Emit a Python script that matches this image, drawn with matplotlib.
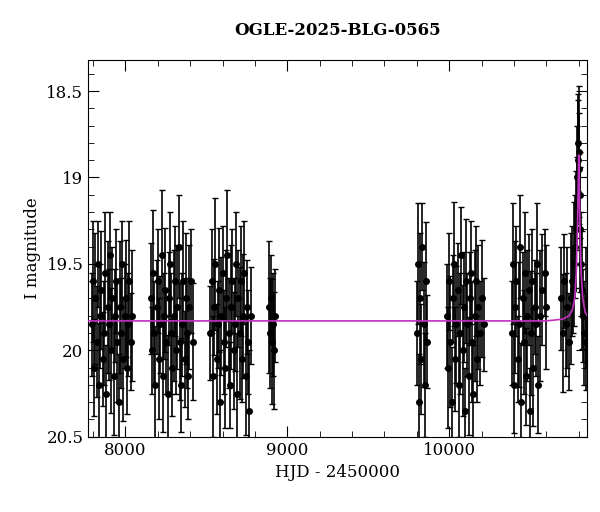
import matplotlib
matplotlib.use("Agg")
import matplotlib.pyplot as plt
from matplotlib.ticker import AutoMinorLocator

## observation seasons (HJD-2450000, I mag)
t1 = [7792,7800,7808,7815,7822,7830,7838,7845,7852,7860,7868,7875,7883,7890,7898,7905,7912,
      7920,7928,7935,7943,7950,7958,7965,7972,7980,7988,7995,8003,8010,8018,8025,8033,8040]
m1 = [19.85,19.6,20.1,19.7,19.95,19.5,20.2,19.8,19.65,20.05,19.9,19.55,20.25,19.75,19.85,19.45,20.0,
      19.7,20.15,19.8,19.6,19.95,20.3,19.75,19.9,19.5,20.05,19.8,19.7,20.1,19.85,19.6,19.95,19.8]
t2 = [8155,8163,8170,8178,8185,8193,8200,8208,8215,8223,8230,8238,8245,8253,8260,8268,8275,
      8283,8290,8298,8305,8313,8320,8328,8335,8343,8350,8358,8365,8373,8380,8388,8395,8405,8415]
m2 = [19.7,20.0,19.55,19.9,20.2,19.75,19.6,20.05,19.85,19.45,20.15,19.8,19.65,19.95,20.25,19.7,19.5,
      19.9,20.1,19.8,19.6,20.0,19.75,19.4,19.95,20.2,19.85,19.6,20.05,19.7,19.9,20.15,19.75,19.6,19.95]
t3 = [8525,8533,8540,8548,8555,8563,8570,8578,8585,8593,8600,8608,8615,8623,8630,8638,8645,
      8653,8660,8668,8675,8683,8690,8698,8705,8713,8720,8728,8735,8743,8750,8758,8765,8775]
m3 = [19.9,19.6,20.15,19.75,19.5,20.05,19.85,19.65,20.3,19.8,19.55,19.95,20.1,19.7,19.45,19.9,20.2,
      19.75,19.6,20.0,19.85,19.5,20.25,19.7,19.9,19.6,20.05,19.8,19.55,20.15,19.75,19.95,20.35,19.8]
t4 = [8885,8892,8898,8905,8912,8918,8925]
m4 = [19.75,19.9,19.7,19.95,19.85,20.0,19.8]
t5 = [9800,9808,9815,9822,9828,9835,9842,9850,9858,9865]
m5 = [19.9,19.5,20.3,19.7,20.05,19.4,19.85,20.2,19.6,19.95]
t6 = [9985,9993,10000,10008,10015,10023,10030,10038,10045,10053,10060,10068,10075,10083,
      10090,10098,10105,10113,10120,10128,10135,10143,10150,10158,10165,10173,10180,10190,10200,10215]
m6 = [19.8,20.1,19.6,19.95,20.3,19.7,19.5,20.05,19.85,19.65,20.2,19.9,19.45,20.0,
      19.75,20.35,19.6,19.85,20.15,19.7,19.55,19.95,20.25,19.8,19.6,20.05,19.75,19.9,19.7,19.85]
t7 = [10385,10393,10400,10408,10415,10423,10430,10438,10445,10453,10460,10468,10475,10483,
      10490,10498,10505,10513,10520,10528,10535,10543,10550,10560,10575,10590,10600]
m7 = [19.9,19.5,20.2,19.75,19.6,20.05,19.85,19.4,20.3,19.7,19.95,19.55,20.15,19.8,
      19.65,20.35,19.9,19.6,20.1,19.75,19.85,19.5,20.2,19.8,19.65,19.55,19.75]
t8 = [10690,10700,10710,10720,10730,10740,10750,10758,10765,10772,10778,10783,10788,10792,
      10795,10798,10800,10803,10806,10810,10815,10820,10828,10835,10842,10848]
m8 = [19.7,19.9,19.6,19.85,19.75,19.95,19.7,19.6,19.65,19.5,19.4,19.3,19.15,19.0,
      18.9,18.8,18.85,18.95,19.1,19.3,19.5,19.65,19.8,19.9,19.75,19.95]
errs = [0.3,0.35,0.28,0.38,0.32,0.25,0.36,0.3,0.34,0.27]

## model curve
tm = [7750,10600,10700,10740,10760,10775,10785,10792,10797,10800,10803,10808,10815,10825,10840,10860,10900]
mm = [19.83,19.83,19.82,19.80,19.77,19.70,19.55,19.30,19.05,18.87,19.0,19.3,19.55,19.70,19.78,19.81,19.83]

t_all = t1 + t2 + t3 + t4 + t5 + t6 + t7 + t8
m_all = m1 + m2 + m3 + m4 + m5 + m6 + m7 + m8
e_all = [errs[i % len(errs)] for i in range(len(t_all))]

plt.rcParams["font.family"] = "DejaVu Serif"
fig = plt.figure(figsize=(6, 5.12), dpi=100)
ax = fig.add_axes([0.147, 0.147, 0.831, 0.736])

ax.errorbar(t_all, m_all, yerr=e_all, fmt="o", color="black", ms=4,
            elinewidth=1.2, capsize=2.5, capthick=1, zorder=2)
ax.plot(tm, mm, color="#c030c0", lw=1.2, zorder=3)

ax.set_xlim(7770, 10850)
ax.set_ylim(20.5, 18.32)
ax.set_yticks([18.5, 19, 19.5, 20, 20.5])
ax.set_yticklabels(["18.5", "19", "19.5", "20", "20.5"])
ax.set_xticks([8000, 9000, 10000])
ax.xaxis.set_minor_locator(AutoMinorLocator(5))
ax.yaxis.set_minor_locator(AutoMinorLocator(5))
ax.tick_params(which="both", direction="in", top=True, right=True, labelsize=12)
ax.tick_params(which="major", length=8)
ax.tick_params(which="minor", length=4)
ax.set_xlabel("HJD - 2450000", fontsize=12)
ax.set_ylabel("I magnitude", fontsize=12)
ax.set_title("OGLE-2025-BLG-0565", fontsize=12, pad=18, fontweight="semibold")

plt.savefig("out.png")
